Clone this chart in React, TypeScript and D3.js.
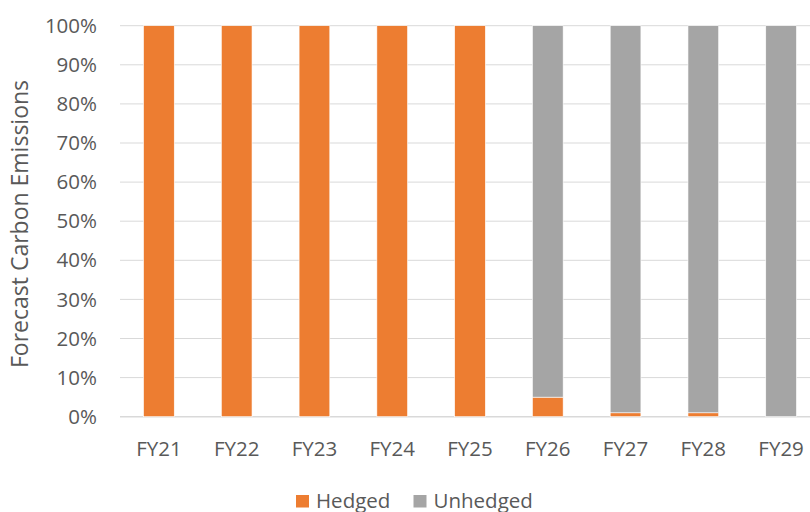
import React from "react";
import * as d3 from "d3";

const categories = ["FY21", "FY22", "FY23", "FY24", "FY25", "FY26", "FY27", "FY28", "FY29"];
const hedged = [100, 100, 100, 100, 100, 5, 1, 1, 0];
const unhedged = [0, 0, 0, 0, 0, 95, 99, 99, 100];
const yTicks = [0, 10, 20, 30, 40, 50, 60, 70, 80, 90, 100];
const seriesNames = ["Hedged", "Unhedged"];
const colors = ["#ED7D31", "#A5A5A5"];

export default function App() {
  const W = 810, H = 512;
  const x = d3.scaleBand().domain(categories).range([120, 820]).paddingInner(0.605).paddingOuter(0.3025);
  const y = d3.scaleLinear().domain([0, 100]).range([416.7, 25.7]);
  const font = "'Open Sans', sans-serif";
  const rows = categories.map((c, i) => ({ c, Hedged: hedged[i], Unhedged: unhedged[i] }));
  const stack = d3.stack<any>().keys(seriesNames)(rows);
  return (
    <svg width={W} height={H} style={{ position: "absolute", left: 0, top: 0, background: "#fff" }}>
      {yTicks.map(t => (
        <g key={t}>
          <line x1={120} x2={810} y1={y(t)} y2={y(t)} stroke="#d9d9d9" strokeWidth={t === 0 ? 1.5 : 1} />
          <text x={97} y={y(t)} dy="0.35em" textAnchor="end" fontSize={20.5} fill="#595959" fontFamily={font}>{t}%</text>
        </g>
      ))}
      {stack.map((s, si) => (
        <g key={si}>
          {s.map((d, i) => {
            const h = y(d[0]) - y(d[1]);
            if (h <= 0) return null;
            return (
              <rect key={i} x={x(categories[i])} width={x.bandwidth()} y={y(d[1])} height={h}
                fill={colors[si]} stroke="#fff" strokeWidth={0.6} />
            );
          })}
        </g>
      ))}
      {categories.map(c => (
        <text key={c} x={(x(c) as number) + x.bandwidth() / 2} y={449} dy="0.35em" textAnchor="middle"
          fontSize={20.5} fill="#595959" fontFamily={font}>{c}</text>
      ))}
      <text transform={`translate(20,224) rotate(-90)`} textAnchor="middle" dy="0.35em" fontSize={23}
        fill="#595959" fontFamily={font}>Forecast Carbon Emissions</text>
      {seriesNames.map((n, i) => {
        const lx = i === 0 ? 296 : 413.5;
        return (
          <g key={n}>
            <rect x={lx} y={495} width={13} height={12.5} fill={colors[i]} />
            <text x={lx + 20} y={501} dy="0.35em" fontSize={20.5} fill="#595959" fontFamily={font}>{n}</text>
          </g>
        );
      })}
    </svg>
  );
}
